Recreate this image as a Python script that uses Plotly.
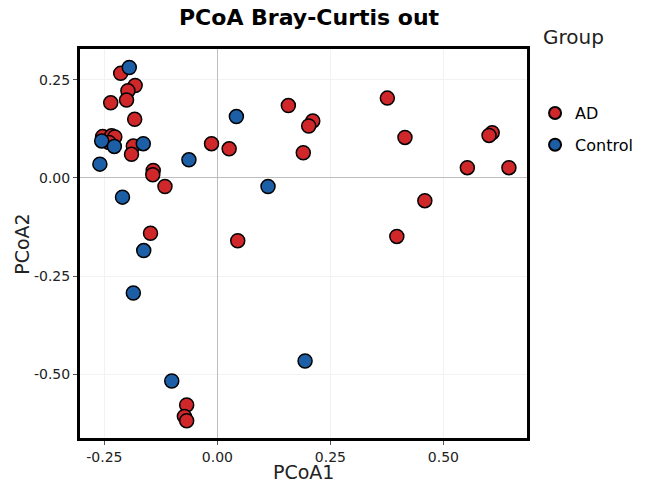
import plotly.graph_objects as go

# AD group coordinates
ad_x = [-0.214, -0.182, -0.198, -0.201, -0.236, -0.183, -0.254, -0.234, -0.227, -0.240,
        -0.186, -0.190, -0.013, -0.142, -0.143, -0.116, -0.148, -0.068, -0.073, -0.068,
        0.157, 0.211, 0.202, 0.026, 0.190, 0.045, 0.376, 0.415, 0.608, 0.601,
        0.553, 0.645, 0.459, 0.397]
ad_y = [0.266, 0.235, 0.222, 0.198, 0.191, 0.149, 0.105, 0.107, 0.104, 0.090,
        0.081, 0.060, 0.087, 0.019, 0.008, -0.022, -0.141, -0.578, -0.607, -0.618,
        0.184, 0.145, 0.132, 0.074, 0.064, -0.160, 0.203, 0.103, 0.115, 0.108,
        0.026, 0.026, -0.058, -0.149]

# Control group coordinates
control_x = [-0.195, -0.256, -0.228, -0.164, -0.063, -0.260, -0.210, -0.163, -0.186,
             -0.101, 0.042, 0.112, 0.194]
control_y = [0.281, 0.094, 0.080, 0.087, 0.046, 0.035, -0.049, -0.185, -0.293,
             -0.517, 0.156, -0.022, -0.466]

x_ticks = [-0.25, 0.0, 0.25, 0.5]
x_ticklabels = ["-0.25", "0.00", "0.25", "0.50"]
y_ticks = [0.25, 0.0, -0.25, -0.5]
y_ticklabels = ["0.25", "0.00", "-0.25", "-0.50"]

FONT = "DejaVu Sans"
RED = "#D0282A"
BLUE = "#1D5FA6"

fig = go.Figure()
fig.add_trace(go.Scatter(x=ad_x, y=ad_y, mode="markers", name="AD", legendgroup="AD",
                         marker=dict(size=14, color=RED, line=dict(color="black", width=1.5))))
fig.add_trace(go.Scatter(x=control_x, y=control_y, mode="markers", name="Control", legendgroup="Control",
                         marker=dict(size=14, color=BLUE, line=dict(color="black", width=1.5))))

axis_common = dict(
    showline=True, linecolor="black", linewidth=3, mirror=True,
    ticks="outside", ticklen=4, tickcolor="#555555",
    showgrid=True, gridcolor="#F2F2F2", gridwidth=1,
    zeroline=True, zerolinecolor="#BDBDBD", zerolinewidth=1,
    tickfont=dict(family=FONT, size=14, color="#222222"),
    automargin=False,
)

fig.update_layout(
    width=653, height=488,
    margin=dict(l=80, r=126, t=49, b=50),
    paper_bgcolor="white", plot_bgcolor="white",
    xaxis=dict(range=[-0.304, 0.685], tickvals=x_ticks, ticktext=x_ticklabels, **axis_common),
    yaxis=dict(range=[-0.662, 0.328], tickvals=y_ticks, ticktext=y_ticklabels, **axis_common),
    legend=dict(x=1.018, xanchor="left", y=0.879, yanchor="top",
                font=dict(family=FONT, size=16, color="black"),
                itemsizing="constant", tracegroupgap=8, bgcolor="rgba(0,0,0,0)"),
    annotations=[
        dict(text="<b>PCoA Bray-Curtis out</b>", xref="paper", yref="paper", x=0.514, y=1.0797,
             xanchor="center", yanchor="middle", showarrow=False,
             font=dict(family=FONT, size=22, color="black")),
        dict(text="Group", xref="paper", yref="paper", x=1.031, y=1.031,
             xanchor="left", yanchor="middle", showarrow=False,
             font=dict(family=FONT, size=20, color="#222222")),
        dict(text="PCoA1", xref="paper", yref="paper", x=0.501, y=-0.0874,
             xanchor="center", yanchor="middle", showarrow=False,
             font=dict(family=FONT, size=19, color="#222222")),
        dict(text="PCoA2", xref="paper", yref="paper", x=-0.130, y=0.499,
             xanchor="center", yanchor="middle", showarrow=False, textangle=-90,
             font=dict(family=FONT, size=19, color="#222222")),
    ],
    showlegend=True,
)

fig.write_html("out.html", config={"displayModeBar": False},
               post_script="document.body.style.margin='0';document.body.style.padding='0';")
